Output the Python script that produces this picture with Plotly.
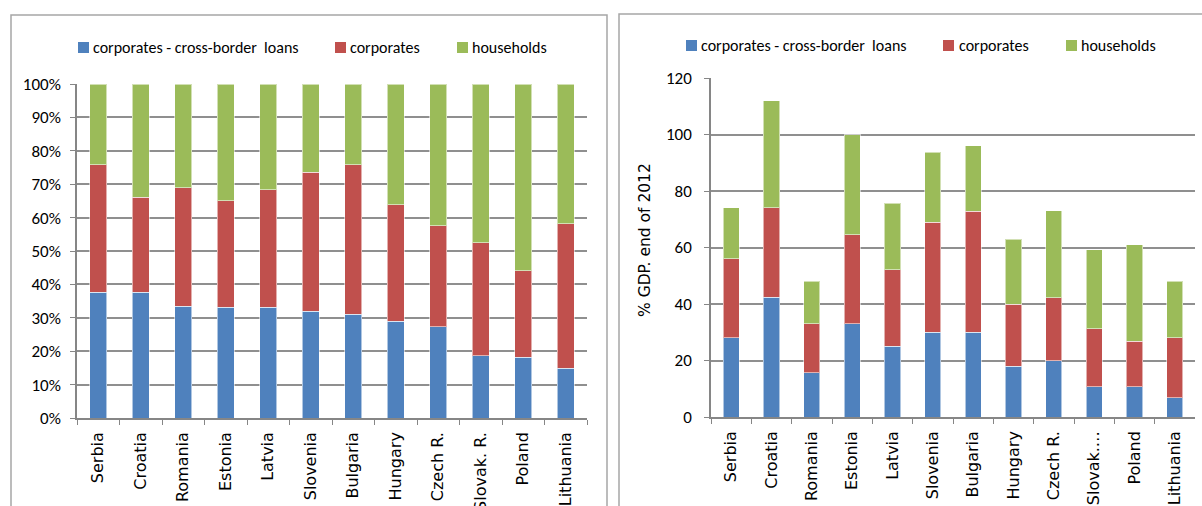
import plotly.graph_objects as go

W, H = 1202, 506

# Categories
countries_share = ["Serbia", "Croatia", "Romania", "Estonia", "Latvia", "Slovenia",
                   "Bulgaria", "Hungary", "Czech R.", "Slovak. R.", "Poland", "Lithuania"]
countries_gdp = ["Serbia", "Croatia", "Romania", "Estonia", "Latvia", "Slovenia",
                 "Bulgaria", "Hungary", "Czech R.", "Slovak.\u2026", "Poland", "Lithuania"]

series_names = ["corporates - cross-border  loans", "corporates", "households"]
series_colors = ["#4F81BD", "#C0504D", "#9BBB59"]

# Structure of loans, % of total
share_cross_border = [37.6, 37.6, 33.4, 33.1, 33.1, 32.0, 31.1, 28.9, 27.3, 18.6, 18.2, 14.9]
share_corporates = [38.2, 28.5, 35.6, 32.0, 35.3, 41.6, 44.7, 34.9, 30.3, 33.9, 25.9, 43.3]
share_households = [24.2, 33.9, 31.0, 34.9, 31.6, 26.4, 24.2, 36.2, 42.4, 47.5, 55.9, 41.8]

# Loans, % GDP end of 2012
gdp_cross_border = [28.0, 42.4, 15.6, 33.0, 25.1, 30.0, 30.0, 18.0, 20.0, 10.7, 10.7, 6.8]
gdp_corporates = [28.0, 31.6, 17.4, 31.6, 27.1, 39.0, 42.8, 22.0, 22.2, 20.5, 16.1, 21.2]
gdp_households = [18.0, 38.0, 15.0, 35.4, 23.5, 24.8, 23.2, 23.0, 30.8, 28.0, 34.1, 20.0]

y_ticks_share = [0, 10, 20, 30, 40, 50, 60, 70, 80, 90, 100]
y_labels_share = ["0%", "10%", "20%", "30%", "40%", "50%", "60%", "70%", "80%", "90%", "100%"]
y_ticks_gdp = [0, 20, 40, 60, 80, 100, 120]


def px_x(v):
    return v / W


def px_y(v):
    return 1 - v / H


TICK_FONT = dict(family="Carlito, Lato, sans-serif", size=17, color="#000000")
CAT_FONT = dict(family="DejaVu Sans, Verdana, sans-serif", size=16, color="#000000")
GRID = "#8f8f8f"
AXIS = "#868686"

fig = go.Figure()

left_series = [share_cross_border, share_corporates, share_households]
right_series = [gdp_cross_border, gdp_corporates, gdp_households]

for name, color, vals in zip(series_names, series_colors, left_series):
    fig.add_trace(go.Bar(
        x=countries_share, y=vals, name=name, marker_color=color,
        marker_line=dict(color="rgba(255,255,255,0.55)", width=1),
        width=0.4, xaxis="x", yaxis="y", showlegend=False,
    ))

for name, color, vals in zip(series_names, series_colors, right_series):
    fig.add_trace(go.Bar(
        x=countries_gdp, y=vals, name=name, marker_color=color,
        marker_line=dict(color="rgba(255,255,255,0.55)", width=1),
        width=0.4, xaxis="x2", yaxis="y2", showlegend=False,
    ))

xaxis_common = dict(
    type="category", tickson="boundaries", ticks="outside", ticklen=5,
    tickcolor=AXIS, showline=True, linecolor=AXIS, linewidth=1.5,
    tickangle=-90, tickfont=CAT_FONT, showgrid=False, ticklabelstandoff=6,
    automargin=False,
)
yaxis_common = dict(
    ticks="outside", ticklen=5, tickcolor=AXIS, showline=True, linecolor=AXIS,
    linewidth=1.5, showgrid=True, gridcolor=GRID, gridwidth=1.5, zeroline=False,
    tickfont=TICK_FONT, automargin=False,
)

fig.update_layout(
    template="none",
    width=W, height=H,
    margin=dict(l=0, r=0, t=0, b=0, pad=0),
    paper_bgcolor="white", plot_bgcolor="white",
    barmode="stack",
    xaxis=dict(domain=[px_x(77), px_x(587)], anchor="y", **xaxis_common),
    yaxis=dict(domain=[px_y(418), px_y(84)], anchor="x", range=[0, 100],
               tickvals=y_ticks_share, ticktext=y_labels_share, ticklabelstandoff=6,
               **yaxis_common),
    xaxis2=dict(domain=[px_x(711), px_x(1195)], anchor="y2", **xaxis_common),
    yaxis2=dict(domain=[px_y(417), px_y(78)], anchor="x2", range=[0, 120],
                tickvals=y_ticks_gdp, ticklabelstandoff=9, **yaxis_common),
)

shapes = []
annotations = []

# Panel frames
for x0, x1, y0 in [(11, 607, 15), (619, 1215, 14)]:
    shapes.append(dict(type="rect", xref="paper", yref="paper",
                       x0=px_x(x0), x1=px_x(x1), y0=px_y(y0), y1=px_y(H + 10),
                       line=dict(color="#a6a6a6", width=1.5), fillcolor="rgba(0,0,0,0)",
                       layer="below"))

# Legend rows: square left edge, square top, text start
legend_rows = [
    ([78, 335, 457], 42, [91, 348, 470]),
    ([686, 943, 1066], 40, [699, 957, 1079]),
]
for sq_x, sq_y, txt_x in legend_rows:
    for name, color, sx, tx in zip(series_names, series_colors, sq_x, txt_x):
        shapes.append(dict(type="rect", xref="paper", yref="paper",
                           x0=px_x(sx), x1=px_x(sx + 11), y0=px_y(sq_y + 11), y1=px_y(sq_y),
                           line=dict(width=0), fillcolor=color))
        annotations.append(dict(text=name, xref="paper", yref="paper",
                                x=px_x(tx), y=px_y(sq_y + 5.5), xanchor="left",
                                yanchor="middle", showarrow=False,
                                font=dict(family="Carlito, Lato, sans-serif", size=16,
                                          color="#000000")))

# Y axis title of the GDP panel
annotations.append(dict(text="% GDP. end of 2012", xref="paper", yref="paper",
                        x=px_x(645), y=px_y(240), textangle=-90, showarrow=False,
                        xanchor="center", yanchor="middle",
                        font=dict(family="DejaVu Sans, Verdana, sans-serif", size=15.5,
                                  color="#000000")))

fig.update_layout(shapes=shapes, annotations=annotations)

fig.write_html("out.html")
